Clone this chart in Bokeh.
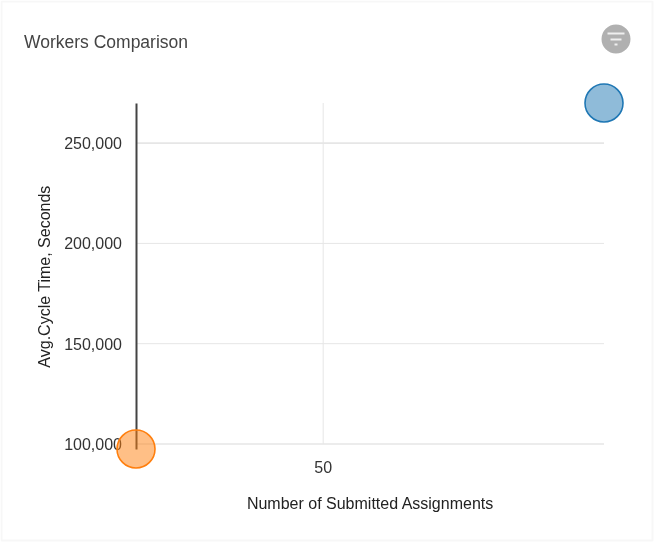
from bokeh.embed import file_html
from bokeh.resources import INLINE
from bokeh.plotting import figure
from bokeh.models import (ColumnDataSource, Range1d, FixedTicker, NumeralTickFormatter,
                          BoxAnnotation, Label)

title = "Workers Comparison"
x_title = "Number of Submitted Assignments"
y_title = "Avg.Cycle Time, Seconds"
assignments = [110, 10]
cycle_time = [270000, 97500]
series_line = ["#1f77b4", "#ff7f0e"]
series_fill = ["#1f77b4", "#ff7f0e"]
x_ticks = [50]
y_ticks = [100000, 150000, 200000, 250000]

W, H = 654, 542
FL, FR, FT, FB = 0, 654, 0, 542  # frame in canvas px
# scale: data min/max land on these pixels
PXL, PXR, PYT, PYB = 135.5, 603.5, 102.5, 448.5
xmin, xmax = min(assignments), max(assignments)
ymin, ymax = min(cycle_time), max(cycle_time)
kx = (xmax - xmin) / (PXR - PXL)
ky = (ymax - ymin) / (PYB - PYT)

p = figure(width=W, height=H, output_backend="svg", toolbar_location=None,
           x_range=Range1d(xmin - (PXL - FL) * kx, xmax + (FR - PXR) * kx),
           y_range=Range1d(ymin - (FB - PYB) * ky, ymax + (PYT - FT) * ky),
           min_border_left=FL, min_border_right=W - FR, min_border_top=FT, min_border_bottom=H - FB,
           styles={"position": "fixed", "left": "0", "top": "0"})
p.outline_line_color = None
p.background_fill_color = "white"
p.grid.visible = False

FONT = "Liberation Sans"
p.xaxis.ticker = FixedTicker(ticks=x_ticks)
p.yaxis.ticker = FixedTicker(ticks=y_ticks)
p.yaxis.formatter = NumeralTickFormatter(format="0,0")
for ax in (p.xaxis[0], p.yaxis[0]):
    ax.level = "underlay"
    ax.major_tick_line_color = None
    ax.minor_tick_line_color = None
    ax.major_label_text_font = FONT
    ax.major_label_text_font_size = "16px"
    ax.major_label_text_color = "#333333"
    ax.axis_label_text_font = FONT
    ax.axis_label_text_font_size = "16px"
    ax.axis_label_text_font_style = "normal"
    ax.axis_label_text_color = "#222222"
p.xaxis[0].axis_line_color = None
p.xaxis[0].fixed_location = ymin
p.xaxis[0].bounds = (xmin, xmax)
p.xaxis[0].major_label_standoff = 6
p.xaxis[0].axis_label = x_title
p.xaxis[0].axis_label_standoff = 18
p.yaxis[0].fixed_location = xmin
p.yaxis[0].bounds = (ymin, ymax)
p.yaxis[0].axis_line_color = "#444444"
p.yaxis[0].axis_line_width = 2
p.yaxis[0].major_label_standoff = 8
p.yaxis[0].axis_label = y_title
p.yaxis[0].axis_label_standoff = 9

# gridlines stop at the plot area, which is narrower than the frame
for t in y_ticks:
    p.segment(x0=xmin, x1=xmax, y0=t, y1=t, line_color="#e6e6e6",
              line_width=1.6 if t in (100000, 250000) else 1, level="underlay")
for t in x_ticks:
    p.segment(x0=t, x1=t, y0=y_ticks[0], y1=ymax, line_color="#e6e6e6", line_width=1, level="underlay")

src = ColumnDataSource(dict(x=assignments, y=cycle_time, lc=series_line, fc=series_fill))
p.scatter("x", "y", source=src, size=38, line_color="lc", fill_color="fc", fill_alpha=0.5, line_width=1.6)

p.add_layout(Label(x=23.5, y=41, x_units="canvas", y_units="canvas", text=title, text_font=FONT,
                   text_font_size="17.5px", text_color="#444444", text_baseline="middle"))

U = dict(left_units="canvas", right_units="canvas", top_units="canvas", bottom_units="canvas")
# card border
p.add_layout(BoxAnnotation(left=1, right=652, top=1, bottom=540, **U,
                           fill_alpha=0, line_color="#e4e4e4", line_width=2))
# filter button
p.add_layout(BoxAnnotation(left=601, right=630, top=24, bottom=53, border_radius=15, **U,
                           fill_color="#b0b0b0", fill_alpha=1, line_color=None))
for l, r, t, b in [(607, 624, 32, 34), (610, 621, 38, 40), (614, 617, 43, 45)]:
    p.add_layout(BoxAnnotation(left=l, right=r, top=t, bottom=b, **U,
                               fill_color="white", fill_alpha=0.8, line_color=None))

open("out.html", "w").write(file_html(p, INLINE))
